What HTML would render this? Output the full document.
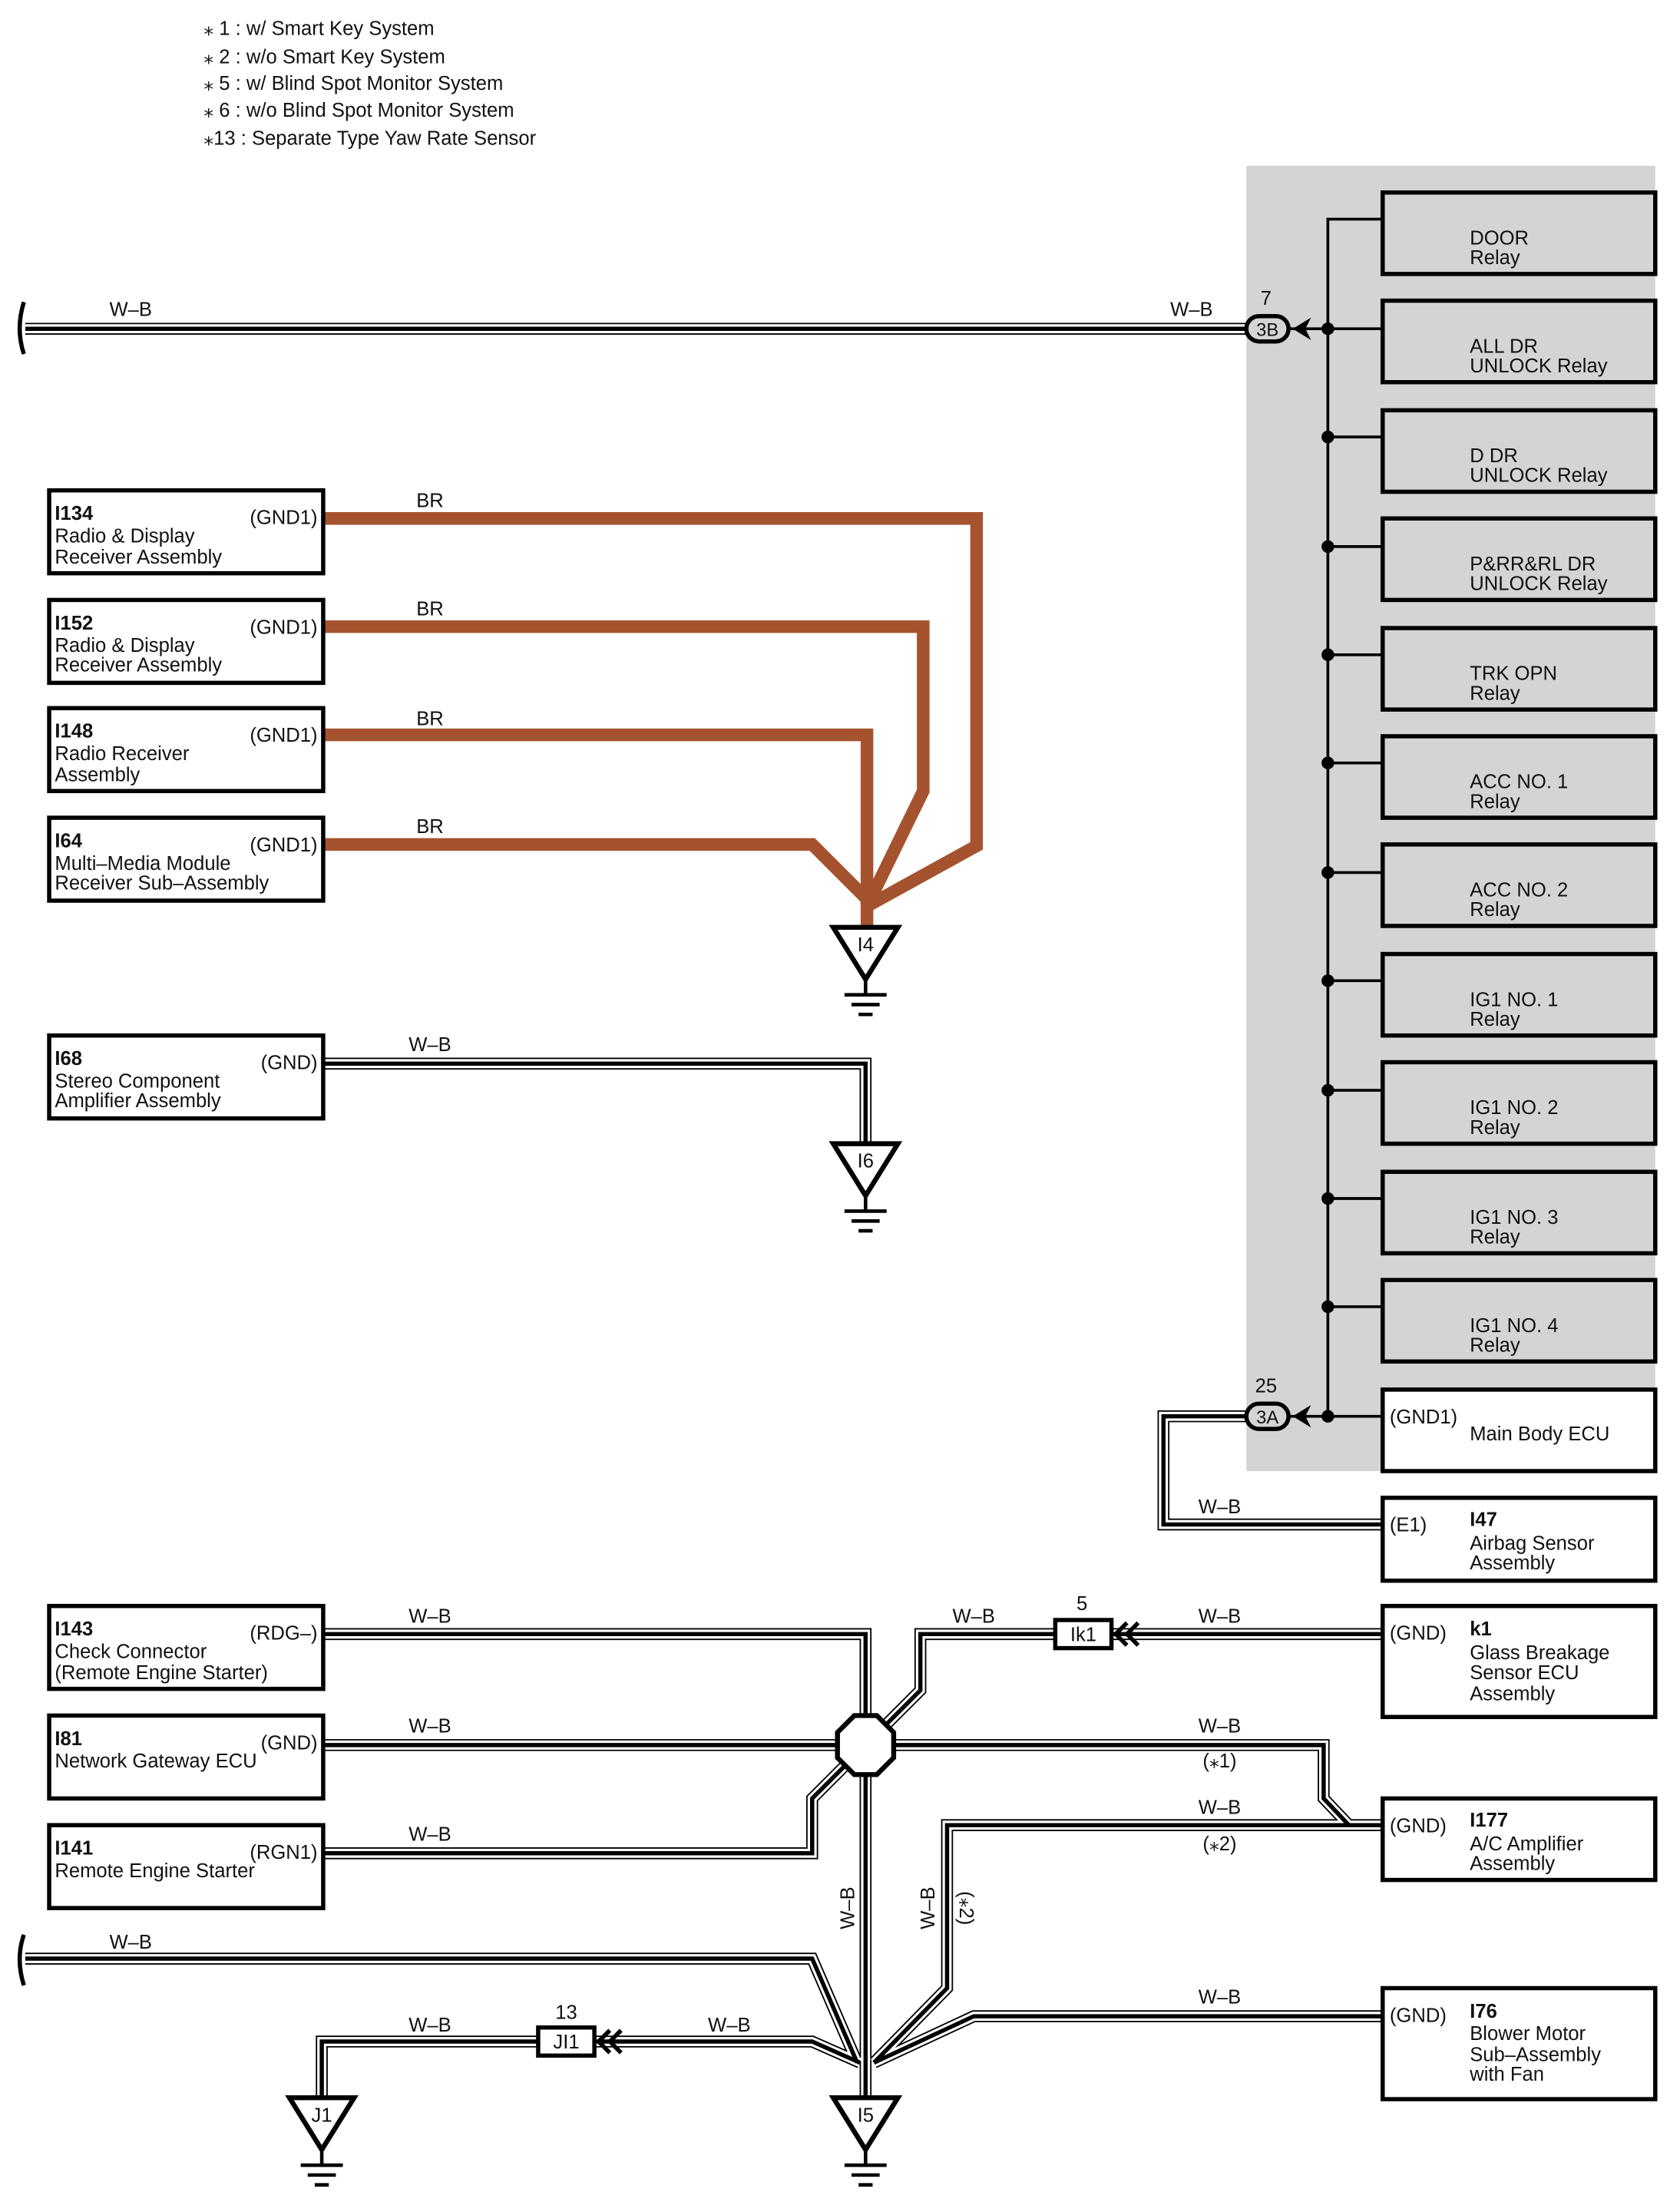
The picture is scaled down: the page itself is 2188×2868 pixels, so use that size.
<!DOCTYPE html>
<html><head><meta charset="utf-8"><style>
html,body{margin:0;padding:0;background:#fff}
svg{display:block}
text{font-family:"Liberation Sans",sans-serif;font-size:14px;fill:#111}
.b{font-weight:bold}
.w1{fill:none;stroke:#000;stroke-width:8.5;stroke-linejoin:miter}
.w2{fill:none;stroke:#fff;stroke-width:6.5;stroke-linejoin:miter}
.w3{fill:none;stroke:#000;stroke-width:3;stroke-linejoin:miter}
.br{fill:none;stroke:#a5532f;stroke-width:9;stroke-linejoin:miter}
.box{fill:#fff;stroke:#000;stroke-width:3}
.gbox{fill:#d4d4d6;stroke:#000;stroke-width:3}
.ln{fill:none;stroke:#000;stroke-width:2}
</style></head><body>
<svg width="2188" height="2868" viewBox="0 0 1195.6 1567.2" preserveAspectRatio="none" xmlns="http://www.w3.org/2000/svg">
<defs>
<path id="p1" d="M18 234 H887"/>
<path id="p2" d="M887 1008 H828 V1085 H984"/>
<path id="p3" d="M230 757 H616 V814"/>
<path id="p4" d="M230 1163 H616 V1242"/>
<path id="p5" d="M230 1242 H616"/>
<path id="p6" d="M230 1319 H578 V1280 L605 1253"/>
<path id="p7" d="M628 1230 L655 1203 V1163 H751"/>
<path id="p8" d="M791 1163 H984"/>
<path id="p9" d="M636 1242 H942 V1280 L960 1299"/>
<path id="p10" d="M984 1299 H674 V1415 L622 1468"/>
<path id="p11" d="M984 1435 H693 L622 1468"/>
<path id="p12" d="M616 1262 V1493"/>
<path id="p13" d="M18 1394 H578 L610 1468"/>
<path id="p14" d="M229 1493 V1453 H383"/>
<path id="p15" d="M423 1453 H578 L612 1468"/>
<g id="gnd"><polygon points="-23,0 23,0 0,37" fill="#fff" stroke="#000" stroke-width="3.5"/><path d="M0 37 V48 M-15 48 H15 M-10 55 H10 M-5 62 H5" stroke="#000" stroke-width="2.5"/></g>
</defs>

<!-- legend -->
<text x="145" y="25">⁎ 1 : w/ Smart Key System</text>
<text x="145" y="45">⁎ 2 : w/o Smart Key System</text>
<text x="145" y="64">⁎ 5 : w/ Blind Spot Monitor System</text>
<text x="145" y="83">⁎ 6 : w/o Blind Spot Monitor System</text>
<text x="145" y="103">⁎13 : Separate Type Yaw Rate Sensor</text>

<!-- gray panel -->
<rect x="887" y="118" width="291" height="929" fill="#d4d4d6"/>

<!-- relay boxes -->
<g>
<rect class="gbox" x="984" y="137" width="194" height="58"/><text x="1046" y="174">DOOR</text><text x="1046" y="188">Relay</text>
<rect class="gbox" x="984" y="214" width="194" height="58"/><text x="1046" y="251">ALL DR</text><text x="1046" y="265">UNLOCK Relay</text>
<rect class="gbox" x="984" y="292" width="194" height="58"/><text x="1046" y="329">D DR</text><text x="1046" y="343">UNLOCK Relay</text>
<rect class="gbox" x="984" y="369" width="194" height="58"/><text x="1046" y="406">P&amp;RR&amp;RL DR</text><text x="1046" y="420">UNLOCK Relay</text>
<rect class="gbox" x="984" y="447" width="194" height="58"/><text x="1046" y="484">TRK OPN</text><text x="1046" y="498">Relay</text>
<rect class="gbox" x="984" y="524" width="194" height="58"/><text x="1046" y="561">ACC NO. 1</text><text x="1046" y="575">Relay</text>
<rect class="gbox" x="984" y="601" width="194" height="58"/><text x="1046" y="638">ACC NO. 2</text><text x="1046" y="652">Relay</text>
<rect class="gbox" x="984" y="679" width="194" height="58"/><text x="1046" y="716">IG1 NO. 1</text><text x="1046" y="730">Relay</text>
<rect class="gbox" x="984" y="756" width="194" height="58"/><text x="1046" y="793">IG1 NO. 2</text><text x="1046" y="807">Relay</text>
<rect class="gbox" x="984" y="834" width="194" height="58"/><text x="1046" y="871">IG1 NO. 3</text><text x="1046" y="885">Relay</text>
<rect class="gbox" x="984" y="911" width="194" height="58"/><text x="1046" y="948">IG1 NO. 4</text><text x="1046" y="962">Relay</text>
<rect class="box" x="984" y="989" width="194" height="58"/><text x="989" y="1013">(GND1)</text><text x="1046" y="1025">Main Body ECU</text>
</g>

<!-- bus -->
<path class="ln" d="M984 156 H945 V1008 M945 234 H984 M945 311 H984 M945 389 H984 M945 466 H984 M945 543 H984 M945 621 H984 M945 698 H984 M945 776 H984 M945 853 H984 M945 930 H984 M945 1008 H984 M917 234 H945 M917 1008 H945"/>
<g fill="#000">
<circle cx="945" cy="234" r="4.5"/><circle cx="945" cy="311" r="4.5"/><circle cx="945" cy="389" r="4.5"/><circle cx="945" cy="466" r="4.5"/><circle cx="945" cy="543" r="4.5"/><circle cx="945" cy="621" r="4.5"/><circle cx="945" cy="698" r="4.5"/><circle cx="945" cy="776" r="4.5"/><circle cx="945" cy="853" r="4.5"/><circle cx="945" cy="930" r="4.5"/><circle cx="945" cy="1008" r="4.5"/>
</g>

<!-- wires -->
<g>
<use href="#p1" class="w1"/><use href="#p2" class="w1"/><use href="#p3" class="w1"/><use href="#p4" class="w1"/><use href="#p5" class="w1"/><use href="#p6" class="w1"/><use href="#p7" class="w1"/><use href="#p8" class="w1"/><use href="#p9" class="w1"/><use href="#p10" class="w1"/><use href="#p11" class="w1"/><use href="#p12" class="w1"/><use href="#p13" class="w1"/><use href="#p14" class="w1"/><use href="#p15" class="w1"/>
<use href="#p1" class="w2"/><use href="#p2" class="w2"/><use href="#p3" class="w2"/><use href="#p4" class="w2"/><use href="#p5" class="w2"/><use href="#p6" class="w2"/><use href="#p7" class="w2"/><use href="#p8" class="w2"/><use href="#p9" class="w2"/><use href="#p10" class="w2"/><use href="#p11" class="w2"/><use href="#p12" class="w2"/><use href="#p13" class="w2"/><use href="#p14" class="w2"/><use href="#p15" class="w2"/>
<use href="#p1" class="w3"/><use href="#p2" class="w3"/><use href="#p3" class="w3"/><use href="#p4" class="w3"/><use href="#p5" class="w3"/><use href="#p6" class="w3"/><use href="#p7" class="w3"/><use href="#p8" class="w3"/><use href="#p9" class="w3"/><use href="#p10" class="w3"/><use href="#p11" class="w3"/><use href="#p12" class="w3"/><use href="#p13" class="w3"/><use href="#p14" class="w3"/><use href="#p15" class="w3"/>
</g>

<!-- braces -->
<path d="M17 215 Q11 234 17 252" fill="none" stroke="#000" stroke-width="3"/>
<path d="M17 1377 Q11 1394 17 1413" fill="none" stroke="#000" stroke-width="3"/>

<!-- connectors 3B / 3A -->
<rect x="887" y="225" width="30" height="18" rx="9" fill="#d4d4d6" stroke="#000" stroke-width="3"/>
<text x="902" y="239" text-anchor="middle" style="font-size:13px">3B</text>
<text x="901" y="217" text-anchor="middle">7</text>
<path d="M920 234 L933 226 L929 234 L933 242 Z" fill="#000"/>
<rect x="887" y="999" width="30" height="18" rx="9" fill="#d4d4d6" stroke="#000" stroke-width="3"/>
<text x="902" y="1013" text-anchor="middle" style="font-size:13px">3A</text>
<text x="901" y="991" text-anchor="middle">25</text>
<path d="M920 1008 L933 1000 L929 1008 L933 1016 Z" fill="#000"/>

<text x="93" y="225" text-anchor="middle">W–B</text>
<text x="848" y="225" text-anchor="middle">W–B</text>

<!-- BR wires -->
<path class="br" d="M230 369 H695 V602 L617 645"/>
<path class="br" d="M230 446 H657 V563 L617 645"/>
<path class="br" d="M230 523 H617 V645"/>
<path class="br" d="M230 601 H578 L617 640 V662"/>
<text x="306" y="361" text-anchor="middle">BR</text>
<text x="306" y="438" text-anchor="middle">BR</text>
<text x="306" y="516" text-anchor="middle">BR</text>
<text x="306" y="593" text-anchor="middle">BR</text>

<!-- left boxes -->
<rect class="box" x="35" y="349" width="195" height="59"/><text class="b" x="39" y="370">I134</text><text x="226" y="373" text-anchor="end">(GND1)</text><text x="39" y="386">Radio &amp; Display</text><text x="39" y="401">Receiver Assembly</text>
<rect class="box" x="35" y="427" width="195" height="59"/><text class="b" x="39" y="448">I152</text><text x="226" y="451" text-anchor="end">(GND1)</text><text x="39" y="464">Radio &amp; Display</text><text x="39" y="478">Receiver Assembly</text>
<rect class="box" x="35" y="504" width="195" height="59"/><text class="b" x="39" y="525">I148</text><text x="226" y="528" text-anchor="end">(GND1)</text><text x="39" y="541">Radio Receiver</text><text x="39" y="556">Assembly</text>
<rect class="box" x="35" y="582" width="195" height="59"/><text class="b" x="39" y="603">I64</text><text x="226" y="606" text-anchor="end">(GND1)</text><text x="39" y="619">Multi–Media Module</text><text x="39" y="633">Receiver Sub–Assembly</text>
<rect class="box" x="35" y="737" width="195" height="59"/><text class="b" x="39" y="758">I68</text><text x="226" y="761" text-anchor="end">(GND)</text><text x="39" y="774">Stereo Component</text><text x="39" y="788">Amplifier Assembly</text>
<text x="306" y="748" text-anchor="middle">W–B</text>

<rect class="box" x="35" y="1143" width="195" height="59"/><text class="b" x="39" y="1164">I143</text><text x="226" y="1167" text-anchor="end">(RDG–)</text><text x="39" y="1180">Check Connector</text><text x="39" y="1195">(Remote Engine Starter)</text>
<rect class="box" x="35" y="1221" width="195" height="59"/><text class="b" x="39" y="1242">I81</text><text x="226" y="1245" text-anchor="end">(GND)</text><text x="39" y="1258">Network Gateway ECU</text>
<rect class="box" x="35" y="1299" width="195" height="59"/><text class="b" x="39" y="1320">I141</text><text x="226" y="1323" text-anchor="end">(RGN1)</text><text x="39" y="1336">Remote Engine Starter</text>

<!-- right lower boxes -->
<rect class="box" x="984" y="1066" width="194" height="59"/><text x="989" y="1090">(E1)</text><text class="b" x="1046" y="1086">I47</text><text x="1046" y="1103">Airbag Sensor</text><text x="1046" y="1117">Assembly</text>
<text x="868" y="1077" text-anchor="middle">W–B</text>
<rect class="box" x="984" y="1143" width="194" height="79"/><text x="989" y="1167">(GND)</text><text class="b" x="1046" y="1164">k1</text><text x="1046" y="1181">Glass Breakage</text><text x="1046" y="1195">Sensor ECU</text><text x="1046" y="1210">Assembly</text>
<rect class="box" x="984" y="1280" width="194" height="58"/><text x="989" y="1304">(GND)</text><text class="b" x="1046" y="1300">I177</text><text x="1046" y="1317">A/C Amplifier</text><text x="1046" y="1331">Assembly</text>
<rect class="box" x="984" y="1415" width="194" height="79"/><text x="989" y="1439">(GND)</text><text class="b" x="1046" y="1436">I76</text><text x="1046" y="1452">Blower Motor</text><text x="1046" y="1467">Sub–Assembly</text><text x="1046" y="1481">with Fan</text>

<!-- splice octagon -->
<polygon points="608,1221 624,1221 636,1233 636,1251 624,1263 608,1263 596,1251 596,1233" fill="#fff" stroke="#000" stroke-width="3.5"/>

<!-- Ik1 -->
<rect x="751" y="1153" width="40" height="20" fill="#fff" stroke="#000" stroke-width="3"/>
<text x="771" y="1168" text-anchor="middle">Ik1</text>
<text x="770" y="1146" text-anchor="middle">5</text>
<path d="M802 1155 L794 1163 L802 1171 M810 1155 L802 1163 L810 1171" fill="none" stroke="#000" stroke-width="3"/>
<!-- JI1 -->
<rect x="383" y="1443" width="40" height="20" fill="#fff" stroke="#000" stroke-width="3"/>
<text x="403" y="1458" text-anchor="middle">JI1</text>
<text x="403" y="1437" text-anchor="middle">13</text>
<path d="M434 1445 L426 1453 L434 1461 M442 1445 L434 1453 L442 1461" fill="none" stroke="#000" stroke-width="3"/>

<!-- grounds -->
<use href="#gnd" x="616" y="660"/><text x="616" y="677" text-anchor="middle">I4</text>
<use href="#gnd" x="616" y="814"/><text x="616" y="831" text-anchor="middle">I6</text>
<use href="#gnd" x="616" y="1493"/><text x="616" y="1510" text-anchor="middle">I5</text>
<use href="#gnd" x="229" y="1493"/><text x="229" y="1510" text-anchor="middle">J1</text>

<!-- labels bottom -->
<text x="306" y="1155" text-anchor="middle">W–B</text>
<text x="306" y="1233" text-anchor="middle">W–B</text>
<text x="306" y="1310" text-anchor="middle">W–B</text>
<text x="693" y="1155" text-anchor="middle">W–B</text>
<text x="868" y="1155" text-anchor="middle">W–B</text>
<text x="868" y="1233" text-anchor="middle">W–B</text>
<text x="868" y="1258" text-anchor="middle">(⁎1)</text>
<text x="868" y="1291" text-anchor="middle">W–B</text>
<text x="868" y="1317" text-anchor="middle">(⁎2)</text>
<text x="868" y="1426" text-anchor="middle">W–B</text>
<text x="93" y="1387" text-anchor="middle">W–B</text>
<text x="306" y="1446" text-anchor="middle">W–B</text>
<text x="519" y="1446" text-anchor="middle">W–B</text>
<text transform="translate(608,1358) rotate(-90)" text-anchor="middle">W–B</text>
<text transform="translate(665,1358) rotate(-90)" text-anchor="middle">W–B</text>
<text transform="translate(683,1358) rotate(90)" text-anchor="middle">(⁎2)</text>
</svg>
</body></html>
